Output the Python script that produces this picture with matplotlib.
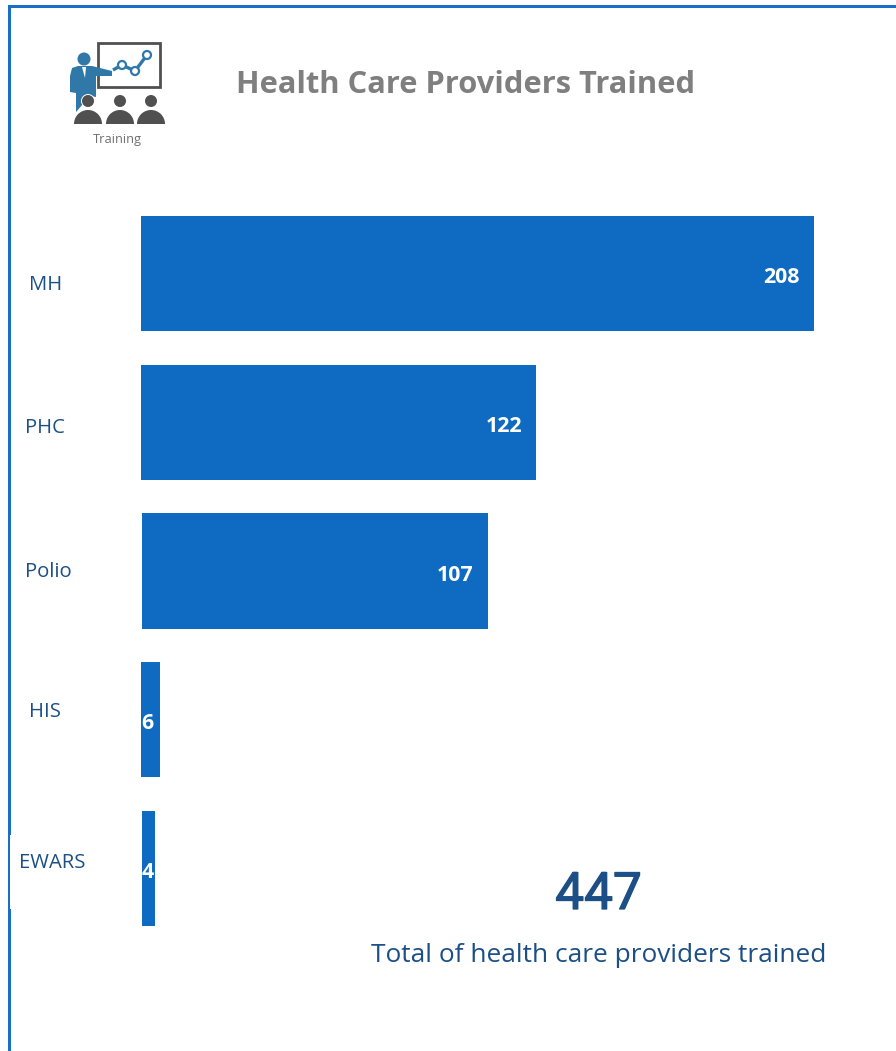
#!/usr/bin/python3
# -*- coding: utf-8 -*-
import matplotlib
matplotlib.use("Agg")
import matplotlib.pyplot as plt
import matplotlib.patheffects as pe
from matplotlib.patches import Circle, Polygon, Rectangle, Wedge

categories = ["MH", "PHC", "Polio", "HIS", "EWARS"]
values = [208, 122, 107, 6, 4]
total = 447
title = "Health Care Providers Trained"
total_caption = "Total of health care providers trained"

W, H = 896, 1051
BLUE = "#0F6BC1"
NAVY = "#1B4F86"
plt.rcParams['font.family'] = ['Open Sans', 'DejaVu Sans']

fig = plt.figure(figsize=(W / 100, H / 100), dpi=100, facecolor="white")

# overlay in pixel coordinates for frame, icon and text
bg = fig.add_axes([0, 0, 1, 1])
bg.set_xlim(0, W)
bg.set_ylim(H, 0)
bg.axis("off")

bg.add_patch(Rectangle((8, 4.5), W - 8, 3.5, color="#1770C6", lw=0))
bg.add_patch(Rectangle((7.5, 4.5), 3.5, H - 4.5, color="#1770C6", lw=0))
bg.add_patch(Rectangle((10, 835), 2, 74, color="white", lw=0))

# training icon
ICON_BLUE = "#2F78A8"
ICON_GREY = "#505050"
bg.add_patch(Rectangle((97.5, 42.5), 62, 44, fill=False, ec=ICON_GREY, lw=2))
bg.add_patch(Polygon([(113, 70), (122, 65), (135, 71), (147, 55)], closed=False,
                     fill=False, ec=ICON_BLUE, lw=2.4))
for cx, cy in [(122, 65), (135, 71), (147, 55)]:
    bg.add_patch(Circle((cx, cy), 4, fc="white", ec=ICON_BLUE, lw=1.6, zorder=3))
bg.add_patch(Circle((84, 59), 6.5, color=ICON_BLUE, lw=0))
bg.add_patch(Polygon([(72, 68), (78, 66), (92, 66), (112, 71), (112, 76), (96, 76),
                      (96, 97), (90, 96), (76, 112), (76, 93), (70, 92), (70, 76)],
                     color=ICON_BLUE, lw=0))
bg.add_patch(Polygon([(82, 67), (86, 67), (85, 78)], color="white", lw=0))
for cx in [88, 120, 151]:
    bg.add_patch(Circle((cx, 101), 7, color="white", lw=0, zorder=4))
    bg.add_patch(Circle((cx, 101), 6, color=ICON_GREY, lw=0, zorder=5))
    bg.add_patch(Wedge((cx, 124), 14, 180, 360, color=ICON_GREY, lw=0, zorder=5))
bg.text(117, 139, "Training", color="#707070", fontsize=9.3, ha="center", va="center")

bg.text(466, 85, title, color="#7F7F7F", fontsize=22.2, fontweight="bold",
        ha="center", va="center")

# bars, x scale 3.2356 px per unit starting at x=141
ax = fig.add_axes([141 / W, 1 - 943 / H, (W - 141) / W, (943 - 199) / H])
ax.patch.set_alpha(0)
ax.set_xlim(0, (W - 141) / 3.2356)
ax.set_ylim(len(categories) - 0.5, -0.5)
ax.axis("off")
bar_left = [0, 0, 0.3, 0, 0.3]
ax.barh(categories, values, left=bar_left, height=0.773, color=BLUE)

label_x = [29, 25, 25, 29, 19]
label_dy = [12, 6, 1, -8, -6]
for i, (name, val) in enumerate(zip(categories, values)):
    ybar = 273.5 + i * 148.75
    bg.text(label_x[i], ybar + label_dy[i], name, color=NAVY, fontsize=14.6,
            ha="left", va="center")
    if val > 20:
        ax.annotate(str(val), (val, i), xytext=(-10, -3), textcoords="offset points",
                    color="white", fontsize=15.4, fontweight="bold", ha="right", va="center")
    else:
        ax.annotate(str(val), (0, i), xytext=(0.5, -3), textcoords="offset points",
                    color="white", fontsize=15.4, fontweight="bold", ha="left", va="center")

big = bg.text(598.5, 895, str(total), color=NAVY, fontsize=37, fontfamily="Roboto",
              ha="center", va="center")
big.set_path_effects([pe.withStroke(linewidth=0.9, foreground=NAVY)])
bg.text(598.5, 955, total_caption, color=NAVY, fontsize=18.95, ha="center", va="center")

fig.savefig("out.png", dpi=100)
